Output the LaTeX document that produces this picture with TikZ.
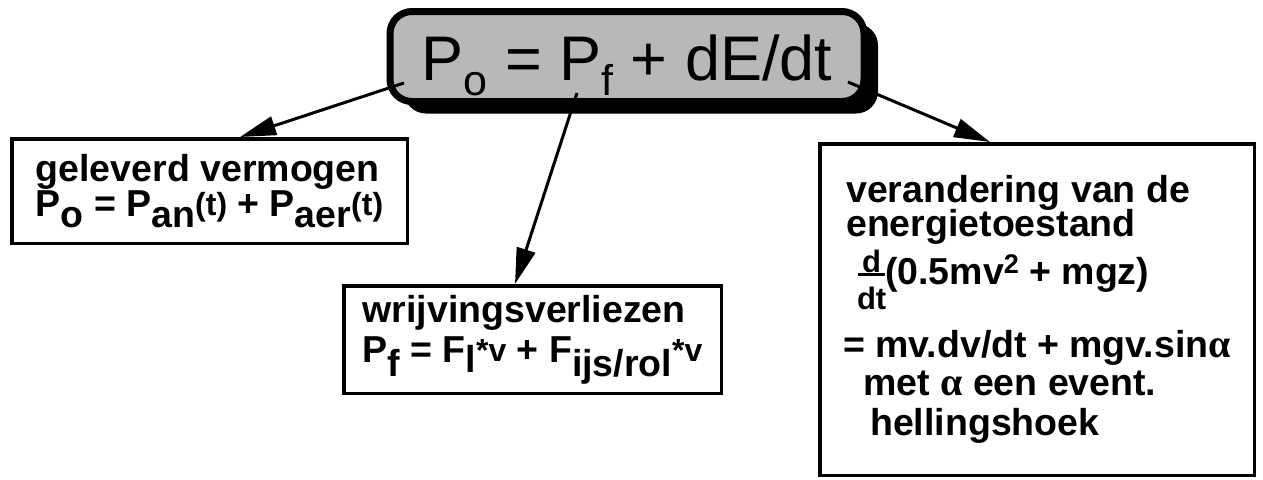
\documentclass[tikz,border=0pt]{standalone}
\usepackage{fontspec}
\setmainfont{Liberation Sans}
\newfontfamily\greekface{Liberation Serif}
\usetikzlibrary{arrows.meta,shadows}

% lowered index set at full size, and a smaller raised suffix
\newcommand{\lowidx}[2][11pt]{\raisebox{-#1}{#2}}
\newcommand{\smallsfx}[1]{{\fontsize{32}{32}\selectfont\raisebox{1pt}{#1}}}
\newcommand{\bigidx}[1]{\raisebox{-15pt}{\fontsize{43}{43}\selectfont #1}}
\newcommand{\galpha}{{\greekface\fontsize{40}{40}\selectfont α}}
\newcommand{\sqr}{\raisebox{11pt}[0pt][0pt]{\fontsize{27}{27}\selectfont 2}}
% d/dt written as a small stacked fraction that does not change the line height
\newcommand{\ddt}{{\fontsize{31}{31}\selectfont
  \makebox[27pt][c]{\raisebox{12.5pt}[0pt][0pt]{d}}\hspace*{-27pt}%
  \raisebox{8.75pt}[0pt][0pt]{\rule{27pt}{2.5pt}}\hspace*{-27pt}%
  \makebox[27pt][c]{\raisebox{-25pt}[0pt][0pt]{dt}}}}

\begin{document}
\begin{tikzpicture}[x=1pt,y=-1pt,
  box/.style={draw,line width=3.5pt,inner sep=0pt,align=left,
    font=\fontsize{37.5}{35}\selectfont\bfseries},
  headbox/.style={draw,line width=7pt,rounded corners=22pt,fill=black!28,
    inner sep=0pt,font=\fontsize{63}{63}\selectfont,
    text height=47pt,text depth=0pt,
    drop shadow={shadow xshift=14pt,shadow yshift=-12pt,fill=black,opacity=1}},
  arr/.style={line width=3pt,-{Triangle[length=36pt,width=19pt]}},
  ]
\useasboundingbox (0,0) rectangle (1263,479);

% central balance equation
\node[headbox,minimum width=474pt,minimum height=90pt] (head) at (627,56.5)
  {P\bigidx{o} = P\bigidx{f} + dE/dt};

% the three terms
\node[box,minimum width=395.5pt,minimum height=104.5pt] (lbox) at (209.5,191)
  {geleverd vermogen\\
   P\lowidx{o} = P\lowidx{an}\smallsfx{(t)} + P\lowidx{aer}\smallsfx{(t)}};

\node[box,minimum width=377.5pt,minimum height=107.5pt] (mbox) at (532.5,339.5)
  {wrijvingsverliezen\\[5pt]
   P\lowidx[14pt]{f} = F\lowidx[10pt]{l}\smallsfx{*v} + F\lowidx[14pt]{ijs/rol}\smallsfx{*v}};

\node[box,minimum width=434.5pt,minimum height=331.5pt] (rbox) at (1037,309.5)
  {\hspace*{3pt}verandering van de\\[-2pt]
   \hspace*{3pt}energietoestand\\[12pt]
   \hspace*{15pt}\ddt(0.5mv\sqr\ + mgz)\\[37pt]
   = mv.dv/dt + mgv.sin\galpha\\[3pt]
   \hspace*{20pt}met \galpha\ een event.\\[5pt]
   \hspace*{27pt}hellingshoek};

% connectors from the equation to its terms
\coordinate (s1) at (404,83);
\coordinate (s2) at (577,93);
\coordinate (s3) at (848,82);
\draw[arr] (s1) -- ([xshift=230pt]lbox.north west);
\draw[arr] (s2) -- ([xshift=173pt]mbox.north west);
\draw[arr] (s3) -- ([xshift=172pt]rbox.north west);
\end{tikzpicture}
\end{document}
